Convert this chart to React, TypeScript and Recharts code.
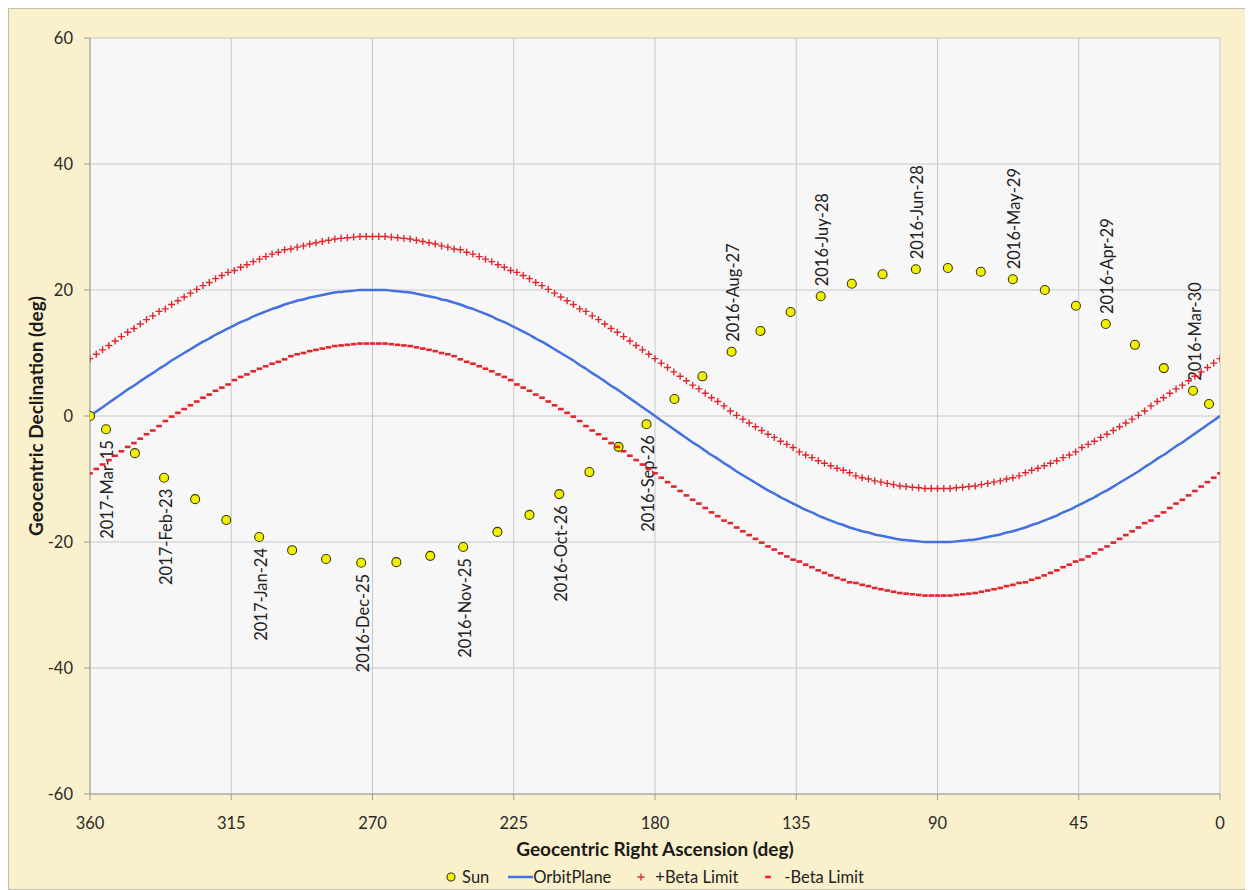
import React from 'react';
import { ComposedChart, XAxis, YAxis, CartesianGrid, Line, Scatter } from 'recharts';

// Right ascension grid (deg) for the orbit-plane and beta-limit curves
const raGrid = [
  0, 2, 4, 6, 8, 10, 12, 14, 16, 18, 20, 22, 24, 26, 28, 30, 32, 34, 36, 38, 40, 42, 44, 46, 48, 50, 52, 54, 56, 58,
  60, 62, 64, 66, 68, 70, 72, 74, 76, 78, 80, 82, 84, 86, 88, 90, 92, 94, 96, 98, 100, 102, 104, 106, 108, 110, 112, 114, 116, 118,
  120, 122, 124, 126, 128, 130, 132, 134, 136, 138, 140, 142, 144, 146, 148, 150, 152, 154, 156, 158, 160, 162, 164, 166, 168, 170, 172, 174, 176, 178,
  180, 182, 184, 186, 188, 190, 192, 194, 196, 198, 200, 202, 204, 206, 208, 210, 212, 214, 216, 218, 220, 222, 224, 226, 228, 230, 232, 234, 236, 238,
  240, 242, 244, 246, 248, 250, 252, 254, 256, 258, 260, 262, 264, 266, 268, 270, 272, 274, 276, 278, 280, 282, 284, 286, 288, 290, 292, 294, 296, 298,
  300, 302, 304, 306, 308, 310, 312, 314, 316, 318, 320, 322, 324, 326, 328, 330, 332, 334, 336, 338, 340, 342, 344, 346, 348, 350, 352, 354, 356, 358,
  360,
];

const orbitDec = [
  0, -0.7, -1.4, -2.1, -2.8, -3.5, -4.2, -4.8, -5.5, -6.2, -6.8, -7.5, -8.1, -8.8, -9.4, -10, -10.6, -11.2, -11.8, -12.3, -12.9, -13.4, -13.9, -14.4, -14.9, -15.3, -15.8, -16.2, -16.6, -17,
  -17.3, -17.7, -18, -18.3, -18.5, -18.8, -19, -19.2, -19.4, -19.6, -19.7, -19.8, -19.9, -20, -20, -20, -20, -20, -19.9, -19.8, -19.7, -19.6, -19.4, -19.2, -19, -18.8, -18.5, -18.3, -18, -17.7,
  -17.3, -17, -16.6, -16.2, -15.8, -15.3, -14.9, -14.4, -13.9, -13.4, -12.9, -12.3, -11.8, -11.2, -10.6, -10, -9.4, -8.8, -8.1, -7.5, -6.8, -6.2, -5.5, -4.8, -4.2, -3.5, -2.8, -2.1, -1.4, -0.7,
  0, 0.7, 1.4, 2.1, 2.8, 3.5, 4.2, 4.8, 5.5, 6.2, 6.8, 7.5, 8.1, 8.8, 9.4, 10, 10.6, 11.2, 11.8, 12.3, 12.9, 13.4, 13.9, 14.4, 14.9, 15.3, 15.8, 16.2, 16.6, 17,
  17.3, 17.7, 18, 18.3, 18.5, 18.8, 19, 19.2, 19.4, 19.6, 19.7, 19.8, 19.9, 20, 20, 20, 20, 20, 19.9, 19.8, 19.7, 19.6, 19.4, 19.2, 19, 18.8, 18.5, 18.3, 18, 17.7,
  17.3, 17, 16.6, 16.2, 15.8, 15.3, 14.9, 14.4, 13.9, 13.4, 12.9, 12.3, 11.8, 11.2, 10.6, 10, 9.4, 8.8, 8.1, 7.5, 6.8, 6.2, 5.5, 4.8, 4.2, 3.5, 2.8, 2.1, 1.4, 0.7,
  0,
];

const plusBetaDec = [
  9.1, 8.4, 7.7, 7.0, 6.3, 5.6, 4.9, 4.3, 3.6, 2.9, 2.3, 1.6, 0.8, 0.1, -0.5, -1.1, -1.7, -2.3, -2.9, -3.4, -4.0, -4.5, -5.0, -5.7, -6.2, -6.6, -7.1, -7.5, -7.9, -8.3,
  -8.6, -9.0, -9.5, -9.8, -10.0, -10.3, -10.5, -10.7, -10.9, -11.1, -11.2, -11.3, -11.4, -11.5, -11.5, -11.5, -11.5, -11.5, -11.4, -11.3, -11.2, -11.1, -10.9, -10.7, -10.5, -10.3, -10.0, -9.8, -9.5, -9.0,
  -8.6, -8.3, -7.9, -7.5, -7.1, -6.6, -6.2, -5.7, -5.0, -4.5, -4.0, -3.4, -2.9, -2.3, -1.7, -1.1, -0.5, 0.1, 0.8, 1.6, 2.3, 2.9, 3.6, 4.3, 4.9, 5.6, 6.3, 7.0, 7.7, 8.4,
  9.1, 9.8, 10.5, 11.2, 11.9, 12.6, 13.3, 13.9, 14.6, 15.3, 15.9, 16.6, 17.0, 17.7, 18.3, 18.9, 19.5, 20.1, 20.7, 21.2, 21.8, 22.3, 22.8, 23.1, 23.6, 24.0, 24.5, 24.9, 25.3, 25.7,
  26.0, 26.4, 26.5, 26.8, 27.0, 27.3, 27.5, 27.7, 27.9, 28.1, 28.2, 28.3, 28.4, 28.5, 28.5, 28.5, 28.5, 28.5, 28.4, 28.3, 28.2, 28.1, 27.9, 27.7, 27.5, 27.3, 27.0, 26.8, 26.5, 26.4,
  26.0, 25.7, 25.3, 24.9, 24.5, 24.0, 23.6, 23.1, 22.8, 22.3, 21.8, 21.2, 20.7, 20.1, 19.5, 18.9, 18.3, 17.7, 17.0, 16.6, 15.9, 15.3, 14.6, 13.9, 13.3, 12.6, 11.9, 11.2, 10.5, 9.8,
  9.1,
];

const minusBetaDec = [
  -9.1, -9.8, -10.5, -11.2, -11.9, -12.6, -13.3, -13.9, -14.6, -15.3, -15.9, -16.6, -17.0, -17.7, -18.3, -18.9, -19.5, -20.1, -20.7, -21.2, -21.8, -22.3, -22.8, -23.1, -23.6, -24.0, -24.5, -24.9, -25.3, -25.7,
  -26.0, -26.4, -26.5, -26.8, -27.0, -27.3, -27.5, -27.7, -27.9, -28.1, -28.2, -28.3, -28.4, -28.5, -28.5, -28.5, -28.5, -28.5, -28.4, -28.3, -28.2, -28.1, -27.9, -27.7, -27.5, -27.3, -27.0, -26.8, -26.5, -26.4,
  -26.0, -25.7, -25.3, -24.9, -24.5, -24.0, -23.6, -23.1, -22.8, -22.3, -21.8, -21.2, -20.7, -20.1, -19.5, -18.9, -18.3, -17.7, -17.0, -16.6, -15.9, -15.3, -14.6, -13.9, -13.3, -12.6, -11.9, -11.2, -10.5, -9.8,
  -9.1, -8.4, -7.7, -7.0, -6.3, -5.6, -4.9, -4.3, -3.6, -2.9, -2.3, -1.6, -0.8, -0.1, 0.5, 1.1, 1.7, 2.3, 2.9, 3.4, 4.0, 4.5, 5.0, 5.7, 6.2, 6.6, 7.1, 7.5, 7.9, 8.3,
  8.6, 9.0, 9.5, 9.8, 10.0, 10.3, 10.5, 10.7, 10.9, 11.1, 11.2, 11.3, 11.4, 11.5, 11.5, 11.5, 11.5, 11.5, 11.4, 11.3, 11.2, 11.1, 10.9, 10.7, 10.5, 10.3, 10.0, 9.8, 9.5, 9.0,
  8.6, 8.3, 7.9, 7.5, 7.1, 6.6, 6.2, 5.7, 5.0, 4.5, 4.0, 3.4, 2.9, 2.3, 1.7, 1.1, 0.5, -0.1, -0.8, -1.6, -2.3, -2.9, -3.6, -4.3, -4.9, -5.6, -6.3, -7.0, -7.7, -8.4,
  -9.1,
];

// Sun positions
const sunRa = [
  360.0, 354.9, 345.7, 336.4, 326.5, 316.6, 306.1, 295.6, 284.8, 273.6, 262.4, 251.6, 241.1, 230.2, 220.0, 210.5, 200.9, 191.6, 182.7,
  173.8, 164.9, 155.6, 146.4, 136.8, 127.2, 117.3, 107.5, 96.9, 86.7, 76.2, 66.0, 55.8, 45.9, 36.4, 27.1, 17.9, 8.6, 3.5,
];
const sunDec = [
  0.0, -2.1, -5.9, -9.8, -13.2, -16.5, -19.2, -21.3, -22.7, -23.3, -23.2, -22.2, -20.8, -18.4, -15.7, -12.4, -8.9, -4.9, -1.3,
  2.7, 6.3, 10.2, 13.5, 16.5, 19.0, 21.0, 22.5, 23.3, 23.5, 22.9, 21.7, 20.0, 17.5, 14.6, 11.3, 7.6, 4.0, 1.9,
];
const sunLabels = [
  '', '2017-Mar-15', '', '2017-Feb-23', '', '', '2017-Jan-24', '', '', '2016-Dec-25', '', '', '2016-Nov-25', '', '', '2016-Oct-26', '', '', '2016-Sep-26',
  '', '', '2016-Aug-27', '', '', '2016-Juy-28', '', '', '2016-Jun-28', '', '', '2016-May-29', '', '', '2016-Apr-29', '', '', '2016-Mar-30', '',
];

const xTicks = [0, 45, 90, 135, 180, 225, 270, 315, 360];
const yTicks = [-60, -40, -20, 0, 20, 40, 60];

const seriesNames = ['Sun', 'OrbitPlane', '+Beta Limit', '-Beta Limit'];

const sunData = sunRa.map((ra, i) => ({ ra, dec: sunDec[i], label: sunLabels[i] }));
const orbitData = raGrid.map((ra, i) => ({ ra, dec: orbitDec[i] }));
const plusData = raGrid.map((ra, i) => ({ ra, dec: plusBetaDec[i] }));
const minusData = raGrid.map((ra, i) => ({ ra, dec: minusBetaDec[i] }));

const FONT = 'Lato, "Open Sans", sans-serif';
const RED = '#E2262E';
const BLUE = '#4471E0';
const YELLOW = '#F2EE00';

const SunShape = (props: any) => {
  const { cx, cy, payload } = props;
  if (cx == null || cy == null) return null;
  const label: string = payload?.label || '';
  const dec: number = payload?.dec ?? 0;
  const lx = cx + 1.5;
  const ly = dec > 0 ? cy - 10 : cy + 11;
  return (
    <g>
      <circle cx={cx} cy={cy} r={4.5} fill={YELLOW} stroke="#3A3A10" strokeWidth={1.1} />
      {label ? (
        <text
          x={lx}
          y={ly}
          transform={`rotate(-90, ${lx}, ${ly})`}
          textAnchor={dec > 0 ? 'start' : 'end'}
          dominantBaseline="central"
          fontFamily={FONT}
          fontSize={16.5}
          fill="#222"
        >
          {label}
        </text>
      ) : null}
    </g>
  );
};

const PlusShape = (props: any) => {
  const { cx, cy } = props;
  if (cx == null || cy == null) return null;
  return <path d={`M${cx - 3.5},${cy}h7M${cx},${cy - 3.5}v7`} stroke={RED} strokeWidth={1.4} fill="none" />;
};

const DashShape = (props: any) => {
  const { cx, cy } = props;
  if (cx == null || cy == null) return null;
  return <rect x={cx - 2.8} y={cy - 1.3} width={5.6} height={2.6} fill={RED} />;
};

const W = 1243;
const H = 880;

export default function App() {
  return (
    <div
      style={{
        position: 'relative',
        width: W,
        height: H,
        border: '1px solid #C4BFAE',
        background: '#FAF0CB',
      }}
    >
      <style>{`body{overflow:hidden}`}</style>
      <ComposedChart width={W} height={H} margin={{ top: 29, right: 32, bottom: 65, left: 0 }}>
        <CartesianGrid fill="#F7F7F7" stroke="#C8C8C8" strokeWidth={1} />
        <XAxis
          dataKey="ra"
          type="number"
          domain={[0, 360]}
          ticks={xTicks}
          reversed
          allowDataOverflow
          height={30}
          stroke="#9C9C9C"
          tickSize={6}
          tickMargin={17}
          tick={{ fontFamily: FONT, fontSize: 16.5, fill: '#2a2a2a' }}
          interval={0}
        />
        <YAxis
          dataKey="dec"
          type="number"
          domain={[-60, 60]}
          ticks={yTicks}
          allowDataOverflow
          width={81}
          stroke="#9C9C9C"
          tickSize={6}
          tickMargin={11}
          tick={{ fontFamily: FONT, fontSize: 16.5, fill: '#2a2a2a' }}
          interval={0}
        />
        <Scatter name={seriesNames[0]} data={sunData} dataKey="dec" shape={SunShape} isAnimationActive={false} />
        <Line
          name={seriesNames[1]}
          data={orbitData}
          dataKey="dec"
          type="monotone"
          stroke={BLUE}
          strokeWidth={2.5}
          dot={false}
          activeDot={false}
          isAnimationActive={false}
        />
        <Scatter name={seriesNames[2]} data={plusData} dataKey="dec" shape={PlusShape} isAnimationActive={false} />
        <Scatter name={seriesNames[3]} data={minusData} dataKey="dec" shape={DashShape} isAnimationActive={false} />
        <text
          x={26.5}
          y={407}
          transform="rotate(-90, 26.5, 407)"
          textAnchor="middle"
          dominantBaseline="central"
          fontFamily={FONT}
          fontWeight={700}
          fontSize={19}
          fill="#1a1a1a"
        >
          Geocentric Declination (deg)
        </text>
        <text
          x={646}
          y={839}
          textAnchor="middle"
          dominantBaseline="central"
          fontFamily={FONT}
          fontWeight={700}
          fontSize={19}
          fill="#1a1a1a"
        >
          Geocentric Right Ascension (deg)
        </text>
      </ComposedChart>
      <div
        style={{
          position: 'absolute',
          top: 858,
          left: 0,
          width: W,
          height: 20,
          display: 'flex',
          justifyContent: 'center',
          alignItems: 'center',
          fontFamily: FONT,
          fontSize: 16.5,
          color: '#222',
          paddingLeft: 48,
          boxSizing: 'border-box',
        }}
      >
        <span style={{ display: 'flex', alignItems: 'center' }}>
          <svg width={12} height={12} style={{ marginRight: 5 }}>
            <circle cx={6} cy={6} r={4} fill={YELLOW} stroke="#3A3A10" strokeWidth={1.1} />
          </svg>
          {seriesNames[0]}
        </span>
        <span style={{ display: 'flex', alignItems: 'center', marginLeft: 18 }}>
          <svg width={26} height={12}>
            <line x1={1} y1={6} x2={26} y2={6} stroke={BLUE} strokeWidth={2.5} />
          </svg>
          {seriesNames[1]}
        </span>
        <span style={{ display: 'flex', alignItems: 'center', marginLeft: 24 }}>
          <svg width={12} height={12} style={{ marginRight: 8 }}>
            <path d="M2.5,6h7M6,2.5v7" stroke={RED} strokeWidth={1.3} fill="none" />
          </svg>
          {seriesNames[2]}
        </span>
        <span style={{ display: 'flex', alignItems: 'center', marginLeft: 24 }}>
          <svg width={12} height={12} style={{ marginRight: 10 }}>
            <rect x={3.2} y={4.7} width={5.6} height={2.6} fill={RED} />
          </svg>
          {seriesNames[3]}
        </span>
      </div>
    </div>
  );
}
